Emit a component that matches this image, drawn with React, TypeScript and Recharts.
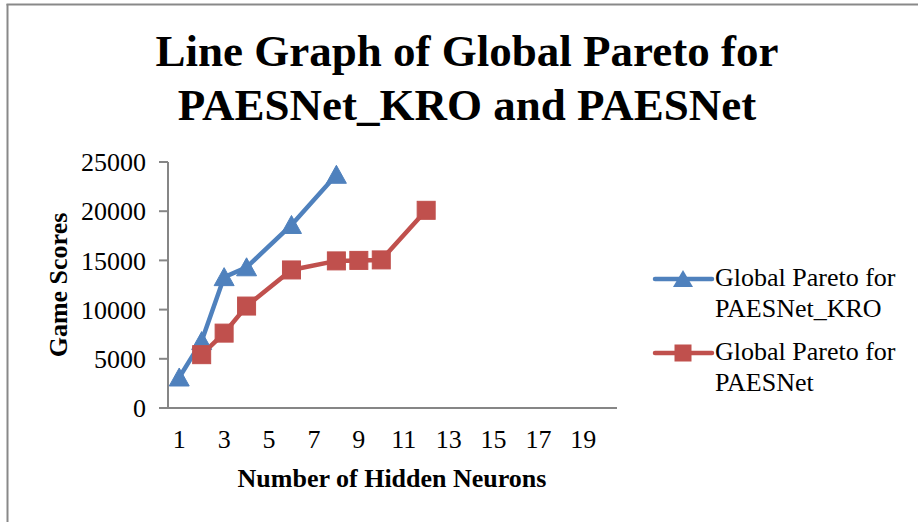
import React from 'react';
import { LineChart, Line, XAxis, YAxis, Legend } from 'recharts';

const neurons = [1, 2, 3, 4, 5, 6, 7, 8, 9, 10, 11, 12, 13, 14, 15, 16, 17, 18, 19, 20];
const kroScores: (number | null)[] = [3100, 6800, 13300, 14300, null, 18600, null, 23700, null, null, null, null, null, null, null, null, null, null, null, null];
const paesScores: (number | null)[] = [null, 5420, 7610, 10360, null, 14030, null, 14950, 15000, 15050, null, 20090, null, null, null, null, null, null, null, null];
const yTicks = [0, 5000, 10000, 15000, 20000, 25000];
const titleLines = ['Line Graph of Global Pareto for', 'PAESNet_KRO and PAESNet'];
const seriesNames = ['Global Pareto for|PAESNet_KRO', 'Global Pareto for|PAESNet'];

const data = neurons.map((n, i) => ({ n, kro: kroScores[i], paes: paesScores[i] }));

const BLUE = '#4F81BD';
const RED = '#C0504D';
const GRAY = '#868686';
const FONT = '"Liberation Serif", "Times New Roman", serif';

const TriangleDot = (props: any) => {
  const { cx, cy, index, value } = props;
  if (value == null || cx == null || cy == null || isNaN(cx) || isNaN(cy)) return <g key={`t-${index}`} />;
  return (
    <polygon
      key={`t-${index}`}
      points={`${cx},${cy - 9.5} ${cx + 10},${cy + 8.5} ${cx - 10},${cy + 8.5}`}
      fill={BLUE}
      stroke={BLUE}
      strokeWidth={1}
    />
  );
};

const SquareDot = (props: any) => {
  const { cx, cy, index, value } = props;
  if (value == null || cx == null || cy == null || isNaN(cx) || isNaN(cy)) return <g key={`s-${index}`} />;
  return <rect key={`s-${index}`} x={cx - 9} y={cy - 9} width={18} height={18} fill={RED} stroke={RED} strokeWidth={1} />;
};

const LegendContent = () => {
  const entries = [
    { color: BLUE, shape: 'tri', lines: seriesNames[0].split('|'), y: 17 },
    { color: RED, shape: 'sq', lines: seriesNames[1].split('|'), y: 91 },
  ];
  return (
    <svg width={270} height={140} style={{ display: 'block', overflow: 'visible' }}>
      {entries.map((e, i) => (
        <g key={i}>
          <line x1={15} y1={e.y} x2={72} y2={e.y} stroke={e.color} strokeWidth={4.5} strokeLinecap="round" />
          {e.shape === 'tri' ? (
            <polygon points={`${43},${e.y - 9} ${53},${e.y + 8} ${33},${e.y + 8}`} fill={e.color} />
          ) : (
            <rect x={34.5} y={e.y - 8.5} width={17} height={17} fill={e.color} />
          )}
          {e.lines.map((t, j) => (
            <text key={j} x={75} y={e.y + 7 + j * 31} fontFamily={FONT} fontSize={26} fill="#000">
              {t}
            </text>
          ))}
        </g>
      ))}
    </svg>
  );
};

export default function App() {
  return (
    <div style={{ position: 'absolute', left: 0, top: 0, width: 918, height: 522, background: '#fff', overflow: 'hidden' }}>
      <LineChart
        width={918}
        height={522}
        data={data}
        margin={{ top: 162, right: 301, bottom: 54, left: 0 }}
      >
        <XAxis
          dataKey="n"
          type="category"
          scale="band"
          interval={1}
          tickLine={false}
          tickSize={0}
          tickMargin={22}
          height={60}
          axisLine={{ stroke: GRAY, strokeWidth: 2 }}
          tick={{ fontFamily: FONT, fontSize: 26, fill: '#000' }}
        />
        <YAxis
          width={168}
          domain={[0, 25000]}
          ticks={yTicks}
          interval={0}
          tickSize={9}
          tickMargin={13}
          axisLine={{ stroke: GRAY, strokeWidth: 2 }}
          tickLine={{ stroke: GRAY, strokeWidth: 2 }}
          tick={{ fontFamily: FONT, fontSize: 26, fill: '#000' }}
        />
        <Legend
          layout="horizontal"
          verticalAlign="middle"
          align="center"
          wrapperStyle={{ left: 640, top: 262, width: 270, height: 140 }}
          content={<LegendContent />}
        />
        <Line
          type="linear"
          dataKey="kro"
          stroke={BLUE}
          strokeWidth={4.5}
          connectNulls
          dot={TriangleDot}
          activeDot={false}
          isAnimationActive={false}
          legendType="triangle"
        />
        <Line
          type="linear"
          dataKey="paes"
          stroke={RED}
          strokeWidth={4.5}
          connectNulls
          dot={SquareDot}
          activeDot={false}
          isAnimationActive={false}
          legendType="square"
        />
      </LineChart>
      <svg
        width={918}
        height={522}
        style={{ position: 'absolute', left: 0, top: 0, pointerEvents: 'none' }}
      >
        <line x1={7.5} y1={4} x2={7.5} y2={522} stroke="#898989" strokeWidth={2} />
        <line x1={6.5} y1={4.5} x2={918} y2={4.5} stroke="#898989" strokeWidth={2} />
        {titleLines.map((t, i) => (
          <text key={i} x={467} y={66 + i * 54} textAnchor="middle" fontFamily={FONT} fontWeight="bold" fontSize={45} fill="#000">
            {t}
          </text>
        ))}
        <text
          transform="translate(67,285) rotate(-90)"
          textAnchor="middle"
          fontFamily={FONT}
          fontWeight="bold"
          fontSize={26}
          fill="#000"
        >
          Game Scores
        </text>
        <text x={392} y={487} textAnchor="middle" fontFamily={FONT} fontWeight="bold" fontSize={26} fill="#000">
          Number of Hidden Neurons
        </text>
      </svg>
    </div>
  );
}
